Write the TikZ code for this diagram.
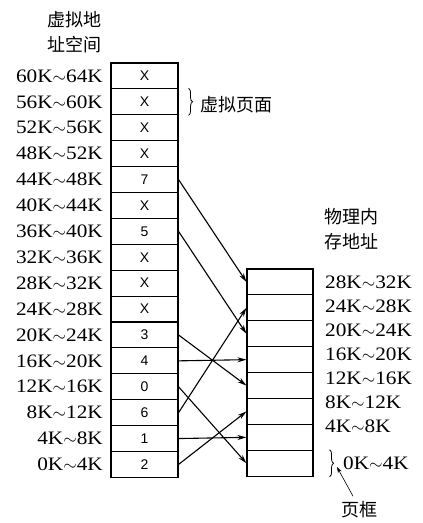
\documentclass[tikz,border=0pt]{standalone}
\usepackage{fontspec}
\setmainfont{Liberation Serif}
\setsansfont{Liberation Sans}
\newfontfamily\cjk{Noto Sans CJK SC}
\newfontfamily\addrfont[FakeStretch=1.12]{Liberation Serif}
\usetikzlibrary{arrows.meta, positioning, decorations.pathreplacing}

\tikzset{
  vpage/.style={rectangle, draw, line width=1.1pt, minimum width=67pt, minimum height=25.9pt, inner sep=0pt, font=\sffamily\fontsize{14}{16}\selectfont},
  pframe/.style={rectangle, draw, line width=1.1pt, minimum width=66pt, minimum height=25.9pt, inner sep=0pt},
  addr/.style={inner sep=0pt, font=\addrfont\fontsize{19}{21}\selectfont},
  cjklabel/.style={inner sep=0pt, align=center, font=\cjk\fontsize{18}{25}\selectfont},
  maparrow/.style={-{Stealth[length=9pt, width=5pt]}, line width=1.1pt},
  pbrace/.style={decorate, decoration={brace, amplitude=4pt}, line width=0.8pt},
}

\begin{document}
\begin{tikzpicture}[x=1pt, y=-1pt]
    \useasboundingbox (0,0) rectangle (423,523);

    % Virtual address space
    \node[cjklabel] (vtitle) at (74,32.5) {虚拟地\\址空间};
    \foreach \n/\v in {15/X, 14/X, 13/X, 12/X, 11/7, 10/X, 9/5, 8/X, 7/X, 6/X, 5/3, 4/4, 3/0, 2/6, 1/1, 0/2} {
        \pgfmathsetmacro{\yc}{63+25.9*(15-\n+0.5)}
        \pgfmathtruncatemacro{\lo}{4*\n}
        \pgfmathtruncatemacro{\hi}{4*\n+4}
        \node[vpage] (v\n) at (144.5,\yc) {\v};
        \node[addr, anchor=east] (va\n) at (103,\yc) {\lo K$\sim$\hi K};
    }

    % Virtual page brace
    \draw[pbrace] ([xshift=10pt]v14.north east) -- ([xshift=10pt]v14.south east);
    \node[cjklabel, anchor=west] (vpname) at (200,105) {虚拟页面};

    % Physical memory
    \node[cjklabel] (ptitle) at (351,229.5) {物理内\\存地址};
    \foreach \k in {0,...,7} {
        \pgfmathsetmacro{\yc}{269+25.9*(7-\k+0.5)}
        \node[pframe] (p\k) at (280,\yc) {};
    }
    \foreach \k in {1,...,7} {
        \pgfmathsetmacro{\yl}{282+24*(7-\k)}
        \pgfmathtruncatemacro{\lo}{4*\k}
        \pgfmathtruncatemacro{\hi}{4*\k+4}
        \node[addr, anchor=west] (pa\k) at (325,\yl) {\lo K$\sim$\hi K};
    }
    \node[addr, anchor=west] (pa0) at (343,463) {0K$\sim$4K};

    % Page frame brace
    \draw[pbrace] ([xshift=16pt]p0.north east) -- ([xshift=16pt]p0.south east);
    \node[cjklabel] (fname) at (359,510) {页框};
    \coordinate (ftip) at (337,467);
    \draw[-{Stealth[length=6pt, width=4pt]}, line width=0.6pt, shorten <=6pt] (fname.110) -- (ftip);

    % Page mapping
    \foreach \n/\k in {11/7, 9/5, 5/3, 4/4, 3/0, 2/6, 1/1, 0/2}
        \draw[maparrow] (v\n.east) -- (p\k.west);
\end{tikzpicture}
\end{document}
